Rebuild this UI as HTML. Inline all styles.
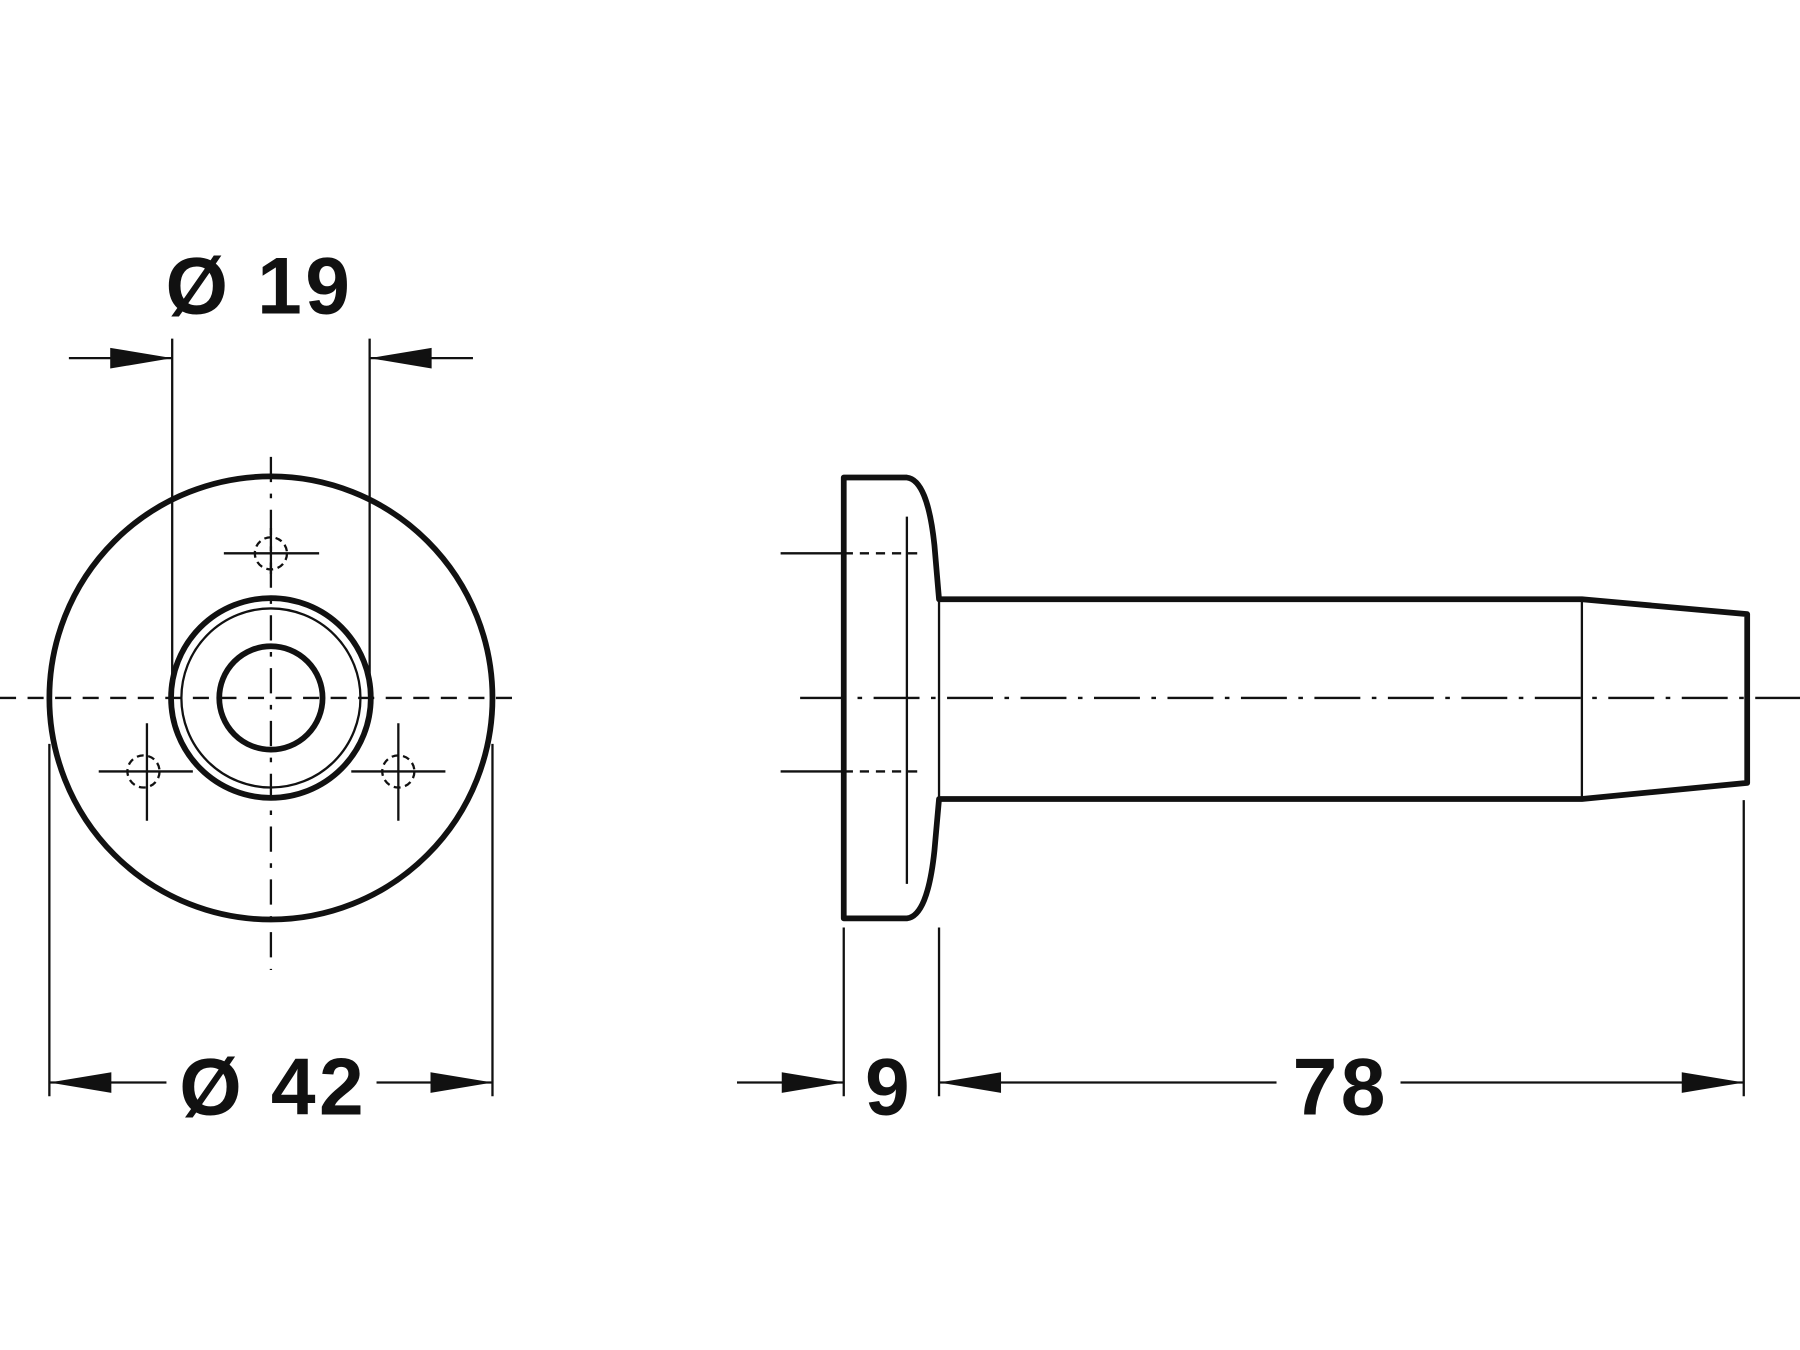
<!DOCTYPE html>
<html><head><meta charset="utf-8"><style>
html,body{margin:0;padding:0;background:#fff;}
svg{display:block;}
text{font-family:"Liberation Sans",sans-serif;font-weight:bold;fill:#111;}
</style></head><body>
<svg width="1800" height="1350" viewBox="0 0 1568 1176" xmlns="http://www.w3.org/2000/svg">
<g fill="none" stroke="#111" stroke-linecap="butt">
<!-- left view -->
<circle cx="236" cy="608" r="193" stroke-width="5"/>
<circle cx="236" cy="608" r="87" stroke-width="5"/>
<circle cx="236" cy="608" r="78" stroke-width="2"/>
<circle cx="236" cy="608" r="45" stroke-width="5"/>
<line x1="0" y1="608" x2="452" y2="608" stroke-width="2" stroke-dasharray="14,10"/>
<line x1="236" y1="398" x2="236" y2="845" stroke-width="2" stroke-dasharray="22,10,4,10"/>
<!-- screw marks -->
<line x1="195" y1="482" x2="278" y2="482" stroke-width="2"/>
<line x1="236" y1="460" x2="236" y2="500" stroke-width="2"/>
<circle cx="236" cy="482" r="14" stroke-width="2" stroke-dasharray="6,4"/>
<line x1="86" y1="672" x2="168" y2="672" stroke-width="2"/>
<line x1="128" y1="630" x2="128" y2="715" stroke-width="2"/>
<circle cx="125" cy="672" r="14" stroke-width="2" stroke-dasharray="6,4"/>
<line x1="306" y1="672" x2="388" y2="672" stroke-width="2"/>
<line x1="347" y1="630" x2="347" y2="715" stroke-width="2"/>
<circle cx="347" cy="672" r="14" stroke-width="2" stroke-dasharray="6,4"/>
<!-- dim 19 -->
<line x1="150" y1="295" x2="150" y2="590" stroke-width="2"/>
<line x1="322" y1="295" x2="322" y2="590" stroke-width="2"/>
<line x1="60" y1="312" x2="150" y2="312" stroke-width="2"/>
<line x1="322" y1="312" x2="412" y2="312" stroke-width="2"/>
<!-- dim 42 -->
<line x1="43" y1="648" x2="43" y2="955" stroke-width="2"/>
<line x1="429" y1="648" x2="429" y2="955" stroke-width="2"/>
<line x1="43" y1="943" x2="145" y2="943" stroke-width="2"/>
<line x1="328" y1="943" x2="429" y2="943" stroke-width="2"/>
<!-- right view -->
<path d="M735,416 L790,416 Q808,418 814,475 L818,522 L1378,522 L1522,535 L1522,682 L1378,696 L818,696 L814,741 Q808,798 790,800 L735,800 Z" stroke-width="5" stroke-linejoin="round"/>
<line x1="790" y1="450" x2="790" y2="770" stroke-width="2"/>
<line x1="818" y1="522" x2="818" y2="696" stroke-width="2"/>
<line x1="1378" y1="522" x2="1378" y2="696" stroke-width="2"/>
<line x1="697" y1="608" x2="1568" y2="608" stroke-width="2" stroke-dasharray="40,10,4,10"/>
<line x1="680" y1="482" x2="735" y2="482" stroke-width="2"/>
<line x1="735" y1="482" x2="800" y2="482" stroke-width="2" stroke-dasharray="8,6"/>
<line x1="680" y1="672" x2="735" y2="672" stroke-width="2"/>
<line x1="735" y1="672" x2="800" y2="672" stroke-width="2" stroke-dasharray="8,6"/>
<line x1="735" y1="808" x2="735" y2="955" stroke-width="2"/>
<line x1="818" y1="808" x2="818" y2="955" stroke-width="2"/>
<line x1="1519" y1="697" x2="1519" y2="955" stroke-width="2"/>
<line x1="642" y1="943" x2="735" y2="943" stroke-width="2"/>
<line x1="818" y1="943" x2="1112" y2="943" stroke-width="2"/>
<line x1="1220" y1="943" x2="1519" y2="943" stroke-width="2"/>
</g>
<g fill="#111">
<polygon points="150,312 96,303 96,321"/>
<polygon points="322,312 376,303 376,321"/>
<polygon points="43,943 97,934 97,952"/>
<polygon points="429,943 375,934 375,952"/>
<polygon points="735,943 681,934 681,952"/>
<polygon points="818,943 872,934 872,952"/>
<polygon points="1519,943 1465,934 1465,952"/>
</g>
<text x="226" y="273" font-size="70" letter-spacing="3" text-anchor="middle">Ø 19</text>
<text x="238" y="971" font-size="70" letter-spacing="3" text-anchor="middle">Ø 42</text>
<text x="773" y="971" font-size="70" text-anchor="middle">9</text>
<text x="1168" y="971" font-size="70" letter-spacing="3" text-anchor="middle">78</text>
</svg>
</body></html>
